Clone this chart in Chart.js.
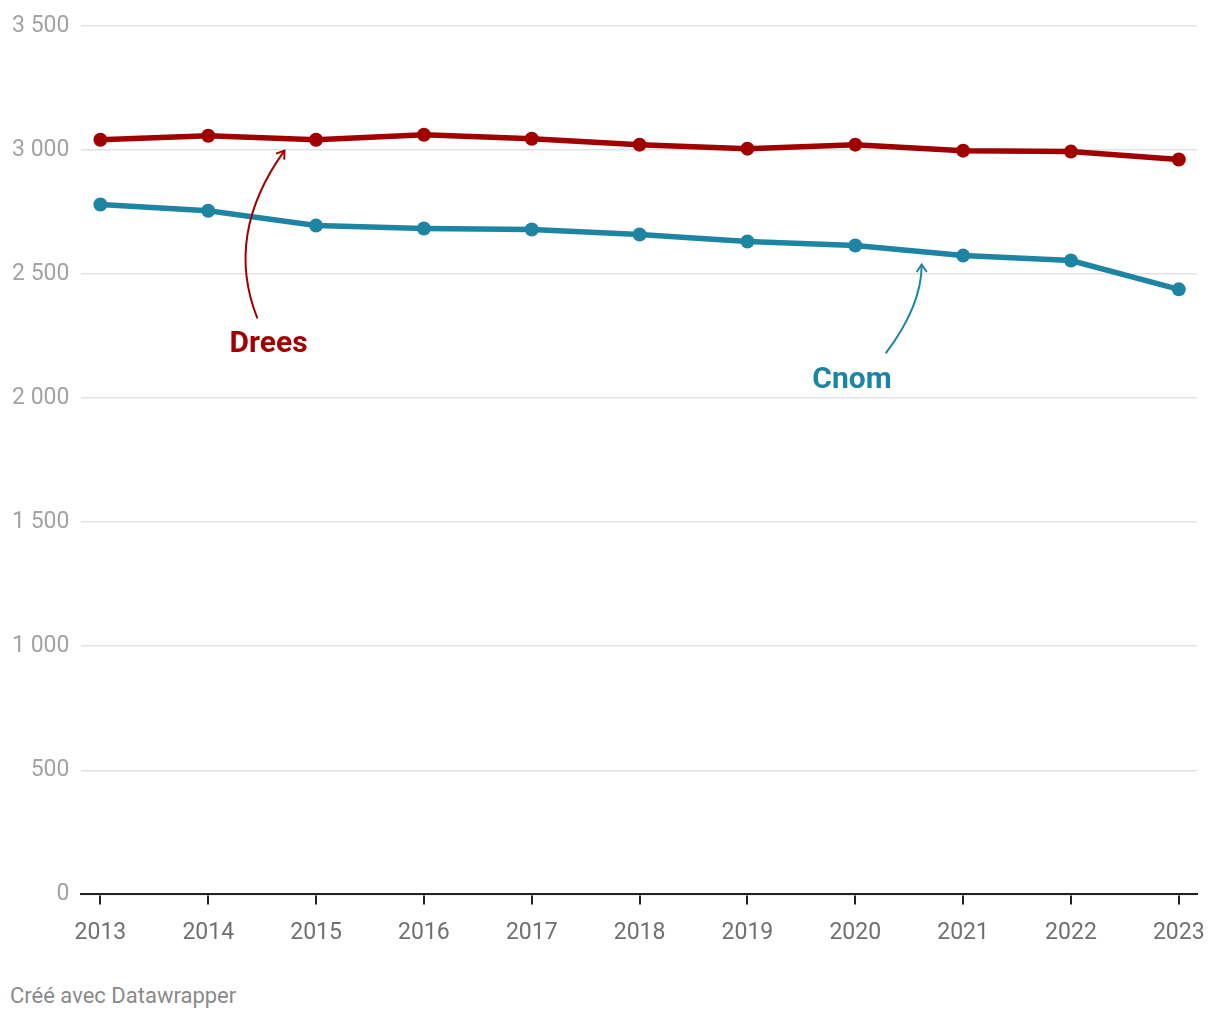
<!DOCTYPE html>
<html>
<head>
<meta charset="utf-8">
<script src="https://cdn.jsdelivr.net/npm/chart.js@4"></script>
<style>
  html, body { margin: 0; padding: 0; background: #fff; }
  body { width: 1220px; height: 1020px; position: relative; font-family: Roboto, sans-serif; }
  #wrap { position: absolute; left: 0; top: 0; width: 1220px; height: 962px; }
  #credit { position: absolute; left: 10px; top: 983px; font-size: 22px; color: #8a8a8a; }
</style>
</head>
<body>
<div id="wrap"><canvas id="chart"></canvas></div>
<div id="credit">Créé avec Datawrapper</div>
<script>
// years and values
const years = [2013, 2014, 2015, 2016, 2017, 2018, 2019, 2020, 2021, 2022, 2023];
const drees = [3041, 3057, 3041, 3061, 3045, 3021, 3005, 3021, 2997, 2993, 2961];
const cnom  = [2780, 2755, 2695, 2683, 2679, 2659, 2631, 2615, 2574, 2554, 2438];
const yTicks = [0, 500, 1000, 1500, 2000, 2500, 3000, 3500];

const RED = '#a10000';
const BLUE = '#1e84a4';

// labels with curved arrows, anchored in data units (year, value)
const notes = [
    { text: 'Drees', color: RED, label: [2014.56, 2217],
      from: [2014.456, 2321], ctrl: [2014.146, 2659], to: [2014.707, 2997] },
    { text: 'Cnom', color: BLUE, label: [2019.97, 2072],
      from: [2020.282, 2180], ctrl: [2020.616, 2371], to: [2020.616, 2538] }
];

const fmt = v => String(v).replace(/\B(?=(\d{3})+(?!\d))/g, ' ');

const notesPlugin = {
    id: 'notes',
    afterDatasetsDraw(chart) {
        const { ctx, scales: { x, y } } = chart;
        const px = p => [x.getPixelForValue(p[0]), y.getPixelForValue(p[1])];
        notes.forEach(n => {
            const [x0, y0] = px(n.from), [cx, cy] = px(n.ctrl), [x1, y1] = px(n.to);
            ctx.save();
            ctx.strokeStyle = n.color;
            ctx.lineWidth = 2;
            ctx.beginPath();
            ctx.moveTo(x0, y0);
            ctx.quadraticCurveTo(cx, cy, x1, y1);
            ctx.stroke();
            // open arrow head along the end tangent
            const a = Math.atan2(y1 - cy, x1 - cx);
            const L = 9;
            ctx.beginPath();
            ctx.moveTo(x1 - L * Math.cos(a - 0.6), y1 - L * Math.sin(a - 0.6));
            ctx.lineTo(x1, y1);
            ctx.lineTo(x1 - L * Math.cos(a + 0.6), y1 - L * Math.sin(a + 0.6));
            ctx.stroke();
            const [lx, ly] = px(n.label);
            ctx.fillStyle = n.color;
            ctx.font = 'bold 30px Roboto';
            ctx.textAlign = 'center';
            ctx.textBaseline = 'middle';
            ctx.fillText(n.text, lx, ly);
            ctx.restore();
        });
    }
};

const series = vals => vals.map((v, i) => ({ x: years[i], y: v }));

new Chart(document.getElementById('chart'), {
    type: 'line',
    data: {
        datasets: [
            { label: 'Drees', data: series(drees), borderColor: RED, backgroundColor: RED,
              borderWidth: 5.5, pointRadius: 7, pointBorderWidth: 0, pointBackgroundColor: RED },
            { label: 'Cnom', data: series(cnom), borderColor: BLUE, backgroundColor: BLUE,
              borderWidth: 5.5, pointRadius: 7, pointBorderWidth: 0, pointBackgroundColor: BLUE }
        ]
    },
    options: {
        responsive: true,
        maintainAspectRatio: false,
        animation: false,
        layout: { padding: { top: 4, right: 22, left: 0, bottom: 0 } },
        plugins: {
            legend: { display: false },
            tooltip: { enabled: false }
        },
        scales: {
            x: {
                type: 'linear',
                min: 2012.824,
                max: 2023.167,
                afterBuildTicks: axis => { axis.ticks = years.map(v => ({ value: v })); },
                grid: { drawOnChartArea: false, drawTicks: true, tickLength: 10, color: '#222', lineWidth: 2 },
                border: { display: true, color: '#222', width: 2 },
                ticks: { color: '#707070', font: { family: 'Roboto', size: 23 }, padding: 15,
                         callback: v => String(v) }
            },
            y: {
                min: 0,
                max: 3500,
                afterBuildTicks: axis => { axis.ticks = yTicks.map(v => ({ value: v })); },
                grid: { color: '#e2e2e2', lineWidth: 1.5, drawTicks: false },
                border: { display: false },
                ticks: { color: '#a3a3a3', font: { family: 'Roboto', size: 23 }, padding: 12,
                         callback: v => fmt(v) }
            }
        }
    },
    plugins: [notesPlugin]
});
</script>
</body>
</html>
